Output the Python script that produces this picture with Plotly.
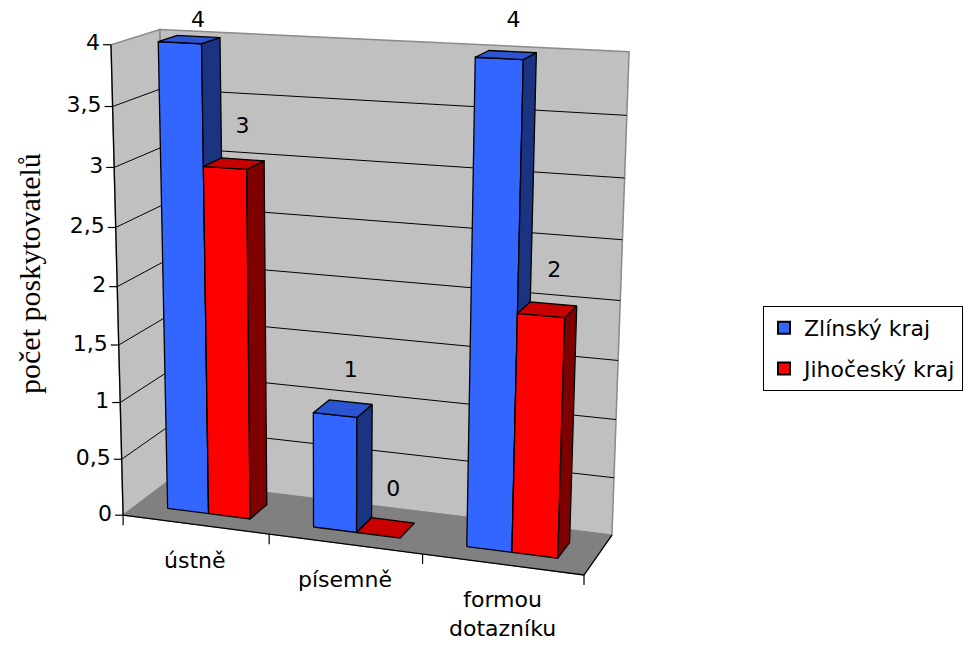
import numpy as np
import plotly.graph_objects as go

# ---- data -------------------------------------------------------------
categories = ["ústně", "písemně", "formou<br>dotazníku"]
series_names = ["Zlínský kraj", "Jihočeský kraj"]
zlinsky_kraj = [4, 1, 4]
jihocesky_kraj = [3, 0, 2]
value_ticks = [0, 0.5, 1, 1.5, 2, 2.5, 3, 3.5, 4]
value_tick_labels = ["0", "0,5", "1", "1,5", "2", "2,5", "3", "3,5", "4"]
axis_title = "počet poskytovatelů"

# ---- styling ----------------------------------------------------------
W, H = 968, 649
V_MAX = value_ticks[-1]
N_CAT = len(categories)
GAP_WIDTH = 1.5          # gap between clusters, relative to bar width
GAP_DEPTH = 1.5          # gap in depth, relative to bar depth
LABEL_LIFT = 0.27        # data label height above the bar top, in value units
SANS = "DejaVu Sans"
SERIF = "Liberation Serif"

series_colors = [
    {"front": "#3366FF", "top": "#2C55D2", "side": "#1B3482"},
    {"front": "#FF0000", "top": "#C80000", "side": "#7E0000"},
]
WALL = "#C0C0C0"
FLOOR = "#808080"
EDGE_GRAY = "#8A8A8A"

# ---- 3D box -> screen perspective projection --------------------------
# world coordinates: (category position 0..N_CAT, depth 0..1, value 0..V_MAX)
frame_corners = [
    ((0, 0, 0), (125, 514)),
    ((0, 0, V_MAX), (110, 44)),
    ((0, 1, V_MAX), (161, 30)),
    ((N_CAT, 1, V_MAX), (629, 52)),
    ((N_CAT, 1, 0), (613, 533)),
    ((N_CAT, 0, 0), (583, 577)),
    ((0, 1, 0), (167, 482)),
]

rows, rhs = [], []
for (X, Z, V), (u, v) in frame_corners:
    rows.append([X, Z, V, 1, 0, 0, 0, 0, -u * X, -u * Z, -u * V]); rhs.append(u)
    rows.append([0, 0, 0, 0, X, Z, V, 1, -v * X, -v * Z, -v * V]); rhs.append(v)
p = np.linalg.lstsq(np.array(rows, float), np.array(rhs, float), rcond=None)[0]
P = np.append(p, 1.0).reshape(3, 4)


def proj(X, Z, V):
    q = P @ np.array([X, Z, V, 1.0])
    return q[0] / q[2], q[1] / q[2]


def poly(points):
    xs, ys = [], []
    for pt in points:
        u, v = proj(*pt)
        xs.append(u); ys.append(v)
    return xs, ys


fig = go.Figure()


def add_face(points, fill, line_color="black", width=1.3):
    xs, ys = poly(points)
    fig.add_trace(go.Scatter(
        x=xs + [xs[0]], y=ys + [ys[0]], mode="lines", fill="toself",
        fillcolor=fill, line=dict(color=line_color, width=width),
        hoverinfo="skip", showlegend=False))


def add_line(points, color="black", width=1.0):
    xs, ys = poly(points)
    fig.add_trace(go.Scatter(
        x=xs, y=ys, mode="lines", line=dict(color=color, width=width),
        hoverinfo="skip", showlegend=False))


# walls and floor
add_face([(0, 0, 0), (0, 1, 0), (0, 1, V_MAX), (0, 0, V_MAX)], WALL, EDGE_GRAY, 1.5)
add_face([(0, 1, 0), (N_CAT, 1, 0), (N_CAT, 1, V_MAX), (0, 1, V_MAX)], WALL, EDGE_GRAY, 1.5)
add_face([(0, 0, 0), (N_CAT, 0, 0), (N_CAT, 1, 0), (0, 1, 0)], FLOOR, FLOOR, 1)

# gridlines on the walls
for t in value_ticks:
    if 0 < t < V_MAX:
        add_line([(0, 0, t), (0, 1, t), (N_CAT, 1, t)], "black", 1.0)

# floor edges and axes
add_line([(0, 0, 0), (N_CAT, 0, 0), (N_CAT, 1, 0)], "black", 1.3)
add_line([(0, 0, 0), (0, 0, V_MAX)], "black", 1.3)

# value axis ticks and labels
tick_x, tick_y = [], []
lab_x, lab_y = [], []
for t in value_ticks:
    u, v = proj(0, 0, t)
    tick_x += [u - 8, u, None]
    tick_y += [v, v, None]
    lab_x.append(u - 11)
    lab_y.append(v)
fig.add_trace(go.Scatter(x=tick_x, y=tick_y, mode="lines",
                         line=dict(color="black", width=1.2),
                         hoverinfo="skip", showlegend=False))
fig.add_trace(go.Scatter(x=lab_x, y=lab_y, mode="text", text=value_tick_labels,
                         textposition="middle left",
                         textfont=dict(family=SANS, size=22, color="black"),
                         hoverinfo="skip", showlegend=False))

# category ticks and labels
ct_x, ct_y = [], []
for k in range(N_CAT + 1):
    u, v = proj(k, 0, 0)
    ct_x += [u, u, None]
    ct_y += [v, v + 10, None]
fig.add_trace(go.Scatter(x=ct_x, y=ct_y, mode="lines",
                         line=dict(color="black", width=1.2),
                         hoverinfo="skip", showlegend=False))
for k, name in enumerate(categories):
    u, v = proj(k + 0.5, 0, 0)
    fig.add_annotation(x=u, y=v + 21, xref="x", yref="y", text=name,
                       showarrow=False, xanchor="center", yanchor="top",
                       font=dict(family=SANS, size=22, color="black"))

# bars
n_series = 2
bar_w = 1.0 / (n_series + GAP_WIDTH)
bar_d = 1.0 / (1 + GAP_DEPTH)
z0, z1 = (1 - bar_d) / 2, (1 + bar_d) / 2
values = [zlinsky_kraj, jihocesky_kraj]

label_x, label_y, label_t = [], [], []
for i in range(N_CAT):
    for s in range(n_series):
        val = values[s][i]
        c = series_colors[s]
        x0 = i + GAP_WIDTH * bar_w / 2 + s * bar_w
        x1 = x0 + bar_w
        if val > 0:
            add_face([(x0, z0, 0), (x1, z0, 0), (x1, z0, val), (x0, z0, val)], c["front"])
            add_face([(x1, z0, 0), (x1, z1, 0), (x1, z1, val), (x1, z0, val)], c["side"])
        add_face([(x0, z0, val), (x1, z0, val), (x1, z1, val), (x0, z1, val)], c["top"])
        u, v = proj((x0 + x1) / 2, z1, val + LABEL_LIFT)
        label_x.append(u)
        label_y.append(max(v, 21))
        label_t.append(str(val))

fig.add_trace(go.Scatter(x=label_x, y=label_y, mode="text", text=label_t,
                         textposition="middle center",
                         textfont=dict(family=SANS, size=22, color="black"),
                         hoverinfo="skip", showlegend=False))

# legend entries
for s, name in enumerate(series_names):
    fig.add_trace(go.Scatter(
        x=[None], y=[None], mode="markers", name=name, legendgroup=name,
        marker=dict(symbol="square", size=13, color=series_colors[s]["front"],
                    line=dict(color="black", width=1.5))))

# axis title
fig.add_annotation(x=29, y=274, xref="x", yref="y", text=axis_title,
                   showarrow=False, textangle=-90,
                   font=dict(family=SERIF, size=30, color="black"))

fig.update_layout(
    width=W, height=H,
    margin=dict(l=0, r=0, t=0, b=0),
    paper_bgcolor="white", plot_bgcolor="white",
    xaxis=dict(range=[0, W], visible=False, fixedrange=True),
    yaxis=dict(range=[H, 0], visible=False, fixedrange=True),
    showlegend=True,
    legend=dict(x=763 / W, y=1 - 306 / H, xanchor="left", yanchor="top",
                bgcolor="white", bordercolor="black", borderwidth=1,
                font=dict(family=SANS, size=22, color="black"),
                tracegroupgap=9, itemsizing="constant"),
)

fig.write_html("out.html")
